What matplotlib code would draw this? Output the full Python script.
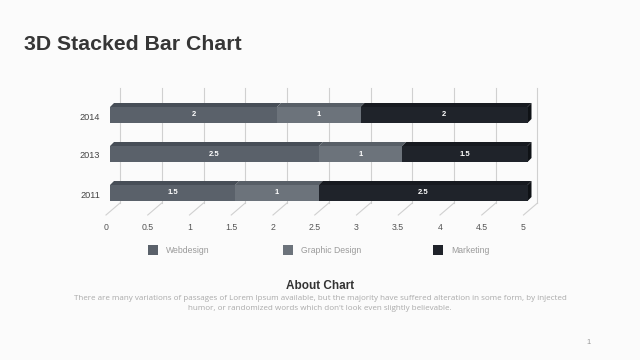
import matplotlib
matplotlib.use("Agg")
import matplotlib.pyplot as plt
from matplotlib.patches import Polygon, Rectangle

# ---- data ----
categories = ["2011", "2013", "2014"]
series_names = ["Webdesign", "Graphic Design", "Marketing"]
webdesign = [1.5, 2.5, 2]
graphic = [1, 1, 1]
marketing = [2.5, 1.5, 2]
xticks = [0, 0.5, 1, 1.5, 2, 2.5, 3, 3.5, 4, 4.5, 5]
xtick_labels = ["0", "0.5", "1", "1.5", "2", "2.5", "3", "3.5", "4", "4.5", "5"]

front_cols = ["#5a616a", "#6c737b", "#1f232a"]
top_cols = ["#474e57", "#585f67", "#171a20"]
side_cols = ["#3a4048", "#4a5058", "#0f1216"]

W, H = 640, 360
fig = plt.figure(figsize=(6.4, 3.6), dpi=100)
fig.patch.set_facecolor("#fbfbfb")
ax = fig.add_axes([0, 0, 1, 1])
ax.set_facecolor("none")
ax.axis("off")

# value -> pixel scale
x0_px, x5_px = 110.0, 527.5
s = (x5_px - x0_px) / 5.0
ax.set_xlim(-x0_px / s, (W - x0_px) / s)
ax.set_ylim(H, 0)

def px(dx):
    return dx / s

# grid (back wall + floor)
grid_dx = px(10)
for v in xticks:
    ax.plot([v + grid_dx, v + grid_dx], [88, 203], color="#d0d0d0", lw=0.8, zorder=1)
    ax.plot([v + grid_dx, v - px(4)], [203, 215], color="#d0d0d0", lw=0.8, zorder=1)
for v, lab in zip(xticks, xtick_labels):
    ax.text(v - px(4), 227, lab, ha="center", va="center", fontsize=6.3,
            color="#555555", family="Liberation Sans")

# bars
y_centers = {"2011": 193.0, "2013": 154.0, "2014": 115.0}
bh = 16.0
ddx, ddy = px(4), -4.0
series = [webdesign, graphic, marketing]
for ci, cat in enumerate(categories):
    yc = y_centers[cat]
    top, bot = yc - bh / 2, yc + bh / 2
    left = 0.0
    for si, vals in enumerate(series):
        v = vals[ci]
        right = left + v
        # top face
        ax.add_patch(Polygon([(left, top), (right, top), (right + ddx, top + ddy),
                              (left + ddx, top + ddy)], closed=True,
                             facecolor=top_cols[si], edgecolor="none", zorder=3))
        # front face
        ax.add_patch(Rectangle((left, top), v, bh, facecolor=front_cols[si],
                               edgecolor="none", zorder=4))
        if si == len(series) - 1:
            ax.add_patch(Polygon([(right, top), (right + ddx, top + ddy),
                                  (right + ddx, bot + ddy), (right, bot)], closed=True,
                                 facecolor=side_cols[si], edgecolor="none", zorder=3))
        ax.text((left + right) / 2, yc, f"{v:g}", ha="center", va="center",
                fontsize=5.5, color="white", fontweight="bold",
                family="Liberation Sans", zorder=5)
        left = right
    ax.text(px(-10), yc + 2, cat, ha="right", va="center", fontsize=6.6,
            color="#444444", family="Liberation Sans")

# legend
leg_x = [148, 283, 433]
for i, name in enumerate(series_names):
    lx = leg_x[i]
    ax.add_patch(Rectangle((px(lx - x0_px), 245), px(10), 10,
                           facecolor=front_cols[i], edgecolor="none"))
    ax.text(px(lx + 18 - x0_px), 250.5, name, ha="left", va="center", fontsize=6.2,
            color="#9a9a9a", family="Liberation Sans")

# texts
fig.text(24 / W, 1 - 44 / H, "3D Stacked Bar Chart", ha="left", va="center",
         fontsize=15.3, fontweight="bold", color="#363636", family="Liberation Sans")
fig.text(320 / W, 1 - 286 / H, "About Chart", ha="center", va="center",
         fontsize=8.5, fontweight="bold", color="#333333", family="Liberation Sans")
fig.text(320 / W, 1 - 298.5 / H,
         "There are many variations of passages of Lorem Ipsum available, but the majority have suffered alteration in some form, by injected",
         ha="center", va="center", fontsize=5.8, color="#aaaaaa", family="Open Sans")
fig.text(320 / W, 1 - 309 / H,
         "humor, or randomized words which don't look even slightly believable.",
         ha="center", va="center", fontsize=5.8, color="#aaaaaa", family="Open Sans")
fig.text(589 / W, 1 - 343 / H, "1", ha="center", va="center", fontsize=5.5,
         color="#999999", family="Liberation Sans")

fig.savefig("out.png", dpi=100, facecolor=fig.get_facecolor())
